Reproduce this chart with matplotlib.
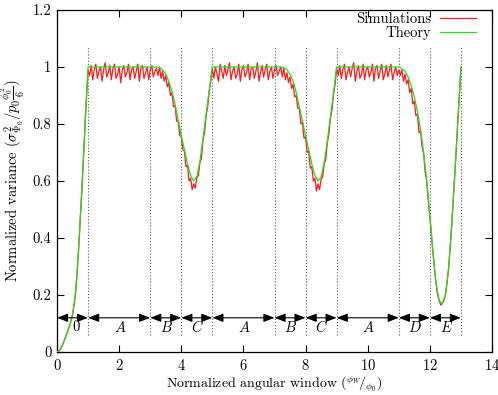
import numpy as np
import matplotlib
matplotlib.use("Agg")
import matplotlib.pyplot as plt

plt.rcParams['font.family'] = ['cmr10', 'DejaVu Serif']
plt.rcParams['mathtext.fontset'] = 'cm'
plt.rcParams['axes.unicode_minus'] = False
plt.rcParams['axes.formatter.use_mathtext'] = True

# ---------------- data ----------------
theory_x = [0.0, 0.1, 0.2, 0.3, 0.4, 0.5, 0.6, 0.7, 0.8, 0.9, 1.0,
            3.2, 3.3, 3.4, 3.5, 3.6, 3.7, 3.8, 3.9, 4.0, 4.1, 4.2, 4.3, 4.4, 4.5, 4.6, 4.7, 4.8, 4.9, 5.0,
            7.2, 7.3, 7.4, 7.5, 7.6, 7.7, 7.8, 7.9, 8.0, 8.1, 8.2, 8.3, 8.4, 8.5, 8.6, 8.7, 8.8, 8.9, 9.0,
            11.0, 11.1, 11.2, 11.3, 11.4, 11.5, 11.6, 11.7, 11.8, 11.9, 12.0, 12.1, 12.2, 12.3, 12.4,
            12.5, 12.6, 12.7, 12.8, 12.9, 13.0]
theory_y = [0.0, 0.008, 0.03, 0.06, 0.09, 0.13, 0.21, 0.37, 0.57, 0.79, 1.0,
            1.0, 0.998, 0.99, 0.975, 0.95, 0.915, 0.87, 0.815, 0.76, 0.71, 0.66, 0.62, 0.6, 0.615, 0.67, 0.75, 0.835, 0.92, 1.0,
            1.0, 0.998, 0.99, 0.975, 0.95, 0.91, 0.86, 0.81, 0.76, 0.71, 0.66, 0.62, 0.6, 0.615, 0.665, 0.74, 0.825, 0.91, 1.0,
            1.0, 0.995, 0.985, 0.965, 0.935, 0.895, 0.845, 0.78, 0.7, 0.6, 0.48, 0.35, 0.24, 0.18, 0.17,
            0.2, 0.29, 0.44, 0.62, 0.81, 1.0]

# simulations sampled every 0.05 from 0 to 13
sim_rise = [0, 0.003, 0.008, 0.018, 0.03, 0.045, 0.06, 0.075, 0.09, 0.11, 0.13, 0.165, 0.21,
            0.28, 0.37, 0.47, 0.57, 0.68, 0.79, 0.9, 0.99]
sim_plateau1 = [0.97, 1.005, 0.955, 0.99, 1.01, 0.96, 0.985, 1.0, 0.95, 0.99, 1.015, 0.965, 0.98,
                1.005, 0.955, 0.995, 1.01, 0.96, 0.975, 1.0, 0.945, 0.99, 1.005, 0.965, 0.98, 1.01,
                0.955, 0.99, 1.0, 0.96, 0.985, 1.01, 0.95, 0.995, 1.005, 0.96, 0.98, 1.0, 0.955,
                0.99, 1.005, 0.965, 0.985, 0.995]
sim_dip1 = [0.97, 1.0, 0.96, 0.985, 0.95, 0.97, 0.93, 0.945, 0.9, 0.91, 0.86, 0.865, 0.81, 0.81,
            0.76, 0.755, 0.71, 0.705, 0.65, 0.655, 0.6, 0.61, 0.57, 0.59, 0.575, 0.61, 0.62, 0.665,
            0.68, 0.745, 0.77, 0.83, 0.86, 0.915, 0.95, 0.995]
sim_plateau2 = [0.96, 1.0, 0.975, 0.95, 1.01, 0.985, 0.96, 1.005, 0.97, 0.99, 1.015, 0.955, 0.985,
                1.0, 0.96, 0.975, 1.01, 0.95, 0.99, 1.005, 0.965, 0.98, 1.01, 0.955, 0.995, 1.0,
                0.96, 0.985, 1.015, 0.95, 0.98, 1.005, 0.965, 0.99, 1.01, 0.955, 0.985, 1.0, 0.96,
                0.99, 1.005, 0.97, 0.985, 1.0]
sim_dip2 = [0.965, 0.995, 0.955, 0.98, 0.945, 0.965, 0.925, 0.94, 0.895, 0.9, 0.855, 0.855, 0.8,
            0.805, 0.75, 0.755, 0.7, 0.705, 0.645, 0.65, 0.6, 0.61, 0.565, 0.59, 0.57, 0.605, 0.615,
            0.66, 0.675, 0.735, 0.765, 0.82, 0.85, 0.905, 0.94, 0.995]
sim_plateau3 = [0.97, 1.005, 0.96, 0.99, 1.01, 0.955, 0.98, 1.0, 0.965, 0.995, 1.015, 0.95, 0.985,
                1.005, 0.96, 0.975, 1.01, 0.955, 0.99, 1.0, 0.965, 0.98, 1.01, 0.95, 0.995, 1.005,
                0.96, 0.985, 1.01, 0.955, 0.975, 1.005, 0.965, 0.99, 1.01, 0.955, 0.98, 1.0, 0.97, 0.99]
sim_dip3 = [0.97, 0.99, 0.95, 0.975, 0.94, 0.955, 0.91, 0.925, 0.87, 0.88, 0.83, 0.835, 0.77, 0.775,
            0.72, 0.695, 0.63, 0.6, 0.53, 0.475, 0.41, 0.35, 0.29, 0.24, 0.2, 0.18, 0.165, 0.17,
            0.18, 0.2, 0.24, 0.29, 0.36, 0.44, 0.53, 0.62, 0.71, 0.81, 0.9, 1.0]
sim_y = (sim_rise + sim_plateau1 + sim_dip1 + sim_plateau2 + sim_dip2
         + sim_plateau3 + sim_dip3)
sim_x = np.arange(len(sim_y)) * 0.05

region_bounds = [0, 1, 3, 4, 5, 7, 8, 9, 11, 12, 13]
region_labels = ['0', '$A$', '$B$', '$C$', '$A$', '$B$', '$C$', '$A$', '$D$', '$E$']
xticks = [0, 2, 4, 6, 8, 10, 12, 14]
yticks = [0, 0.2, 0.4, 0.6, 0.8, 1.0, 1.2]
ytick_labels = ['0', '0.2', '0.4', '0.6', '0.8', '1', '1.2']

# ---------------- figure ----------------
W, H = 498, 395
fig = plt.figure(figsize=(W / 100, H / 100), dpi=100)
L, R, B, T = 57, 492, 352, 10
ax = fig.add_axes([L / W, 1 - B / H, (R - L) / W, (B - T) / H])

ax.plot(sim_x, sim_y, color='#ff1a1a', lw=0.9, label='Simulations', zorder=3)
ax.plot(theory_x, theory_y, color='#22dd22', lw=0.9, label='Theory', zorder=4)

# dotted separators
ax.vlines(region_bounds[1:], 0.06, 1.07, colors='0.35', lw=0.8,
          linestyles=[(0, (1, 1.8))], zorder=2)

# double arrows + labels
for a, b, lab in zip(region_bounds[:-1], region_bounds[1:], region_labels):
    ax.annotate('', xy=(b, 0.12), xytext=(a, 0.12),
                arrowprops=dict(arrowstyle='<|-|>,head_length=0.65,head_width=0.25',
                                color='k', lw=0.8, shrinkA=0, shrinkB=0,
                                mutation_scale=10), zorder=5)
    xm = (a + b) / 2 + (0.1 if lab == '0' else 0.03)
    ax.text(xm, 0.087, lab, ha='center', va='center', fontsize=10.5)

ax.set_xlim(0, 14)
ax.set_ylim(0, 1.2)
ax.set_xticks(xticks)
ax.set_yticks(yticks)
ax.set_yticklabels(ytick_labels)
ax.tick_params(direction='in', top=True, right=True, length=5, width=0.8,
               labelsize=10.5)
ax.tick_params(axis='x', pad=4.5)
ax.tick_params(axis='y', pad=4)
for s in ax.spines.values():
    s.set_linewidth(0.9)

ax.set_xlabel(r'Normalized angular window ($^{\phi_W}\!/_{\phi_0}$)', fontsize=10)
ax.xaxis.set_label_coords(0.5, (B - 384.5) / (B - T))
ax.xaxis.label.set_va('center')
ax.set_ylabel(r'Normalized variance ($\sigma^2_{\Phi_0}/p_0\frac{\phi_0^2}{6}$)', fontsize=10.5)
ax.yaxis.set_label_coords((13 - L) / (R - L), 0.5)
ax.yaxis.label.set_va('center')

leg = ax.legend(loc='upper right', bbox_to_anchor=((476 - L) / (R - L), (B - 12) / (B - T)),
                frameon=False, markerfirst=False, fontsize=10.5, handlelength=2.5,
                handletextpad=0.6, labelspacing=0.0, borderpad=0, borderaxespad=0)

fig.savefig('out.png', dpi=100)
